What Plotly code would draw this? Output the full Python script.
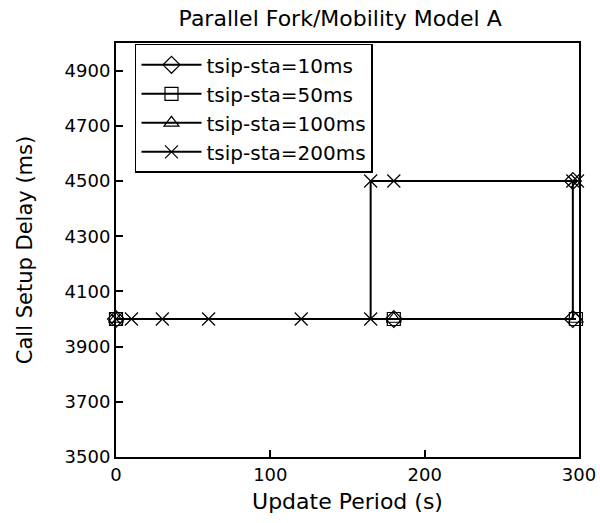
import plotly.graph_objects as go

# Update period (s) and call setup delay (ms) per tsip-sta setting
x_10ms = [0, 180, 296, 296]
y_10ms = [4000, 4000, 4000, 4500]

x_50ms = [0, 180, 298]
y_50ms = [4000, 4000, 4000]

x_100ms = [0, 180, 298]
y_100ms = [4000, 4000, 4000]

x_200ms = [0, 10, 30, 60, 120, 165, 165, 180, 296, 299]
y_200ms = [4000, 4000, 4000, 4000, 4000, 4000, 4500, 4500, 4500, 4500]

series = [
    ("tsip-sta=10ms", x_10ms, y_10ms, "diamond-open"),
    ("tsip-sta=50ms", x_50ms, y_50ms, "square-open"),
    ("tsip-sta=100ms", x_100ms, y_100ms, "triangle-up-open"),
    ("tsip-sta=200ms", x_200ms, y_200ms, "x-thin-open"),
]

x_ticks = [0, 100, 200, 300]
y_ticks = [3500, 3700, 3900, 4100, 4300, 4500, 4700, 4900]

FONT = "'DejaVu Sans', sans-serif"

fig = go.Figure()
for name, xs, ys, sym in series:
    fig.add_trace(go.Scatter(
        x=xs, y=ys, name=name, mode="lines+markers",
        line=dict(color="black", width=2),
        marker=dict(symbol=sym, size=13, color="black",
                    line=dict(color="black", width=1.2)),
        cliponaxis=False,
    ))

axis_common = dict(
    showline=True, linecolor="black", linewidth=2, mirror=True,
    ticks="inside", ticklen=7, tickwidth=1.5, tickcolor="black",
    showgrid=False, zeroline=False, automargin=False,
    tickfont=dict(family=FONT, size=18, color="black"),
)

fig.update_layout(
    width=600, height=523,
    margin=dict(l=116, r=21, t=43, b=66),
    paper_bgcolor="white", plot_bgcolor="white",
    font=dict(family=FONT, color="black"),
    title=dict(text="Parallel Fork/Mobility Model A", x=0.567, xanchor="center",
               y=0.965, yanchor="middle", font=dict(family=FONT, size=22)),
    xaxis=dict(range=[0, 300], tickvals=x_ticks,
               title=dict(text="Update Period (s)", font=dict(family=FONT, size=22),
                          standoff=10),
               **axis_common),
    yaxis=dict(range=[3500, 5000], tickvals=y_ticks,
               title=dict(text="Call Setup Delay (ms)", font=dict(family=FONT, size=21),
                          standoff=26),
               **axis_common),
    legend=dict(x=0.041, y=0.998, xanchor="left", yanchor="top",
                bgcolor="white", bordercolor="black", borderwidth=1.5,
                font=dict(family=FONT, size=20), tracegroupgap=0,
                itemwidth=60),
    showlegend=True,
)

fig.write_html("out.html")
